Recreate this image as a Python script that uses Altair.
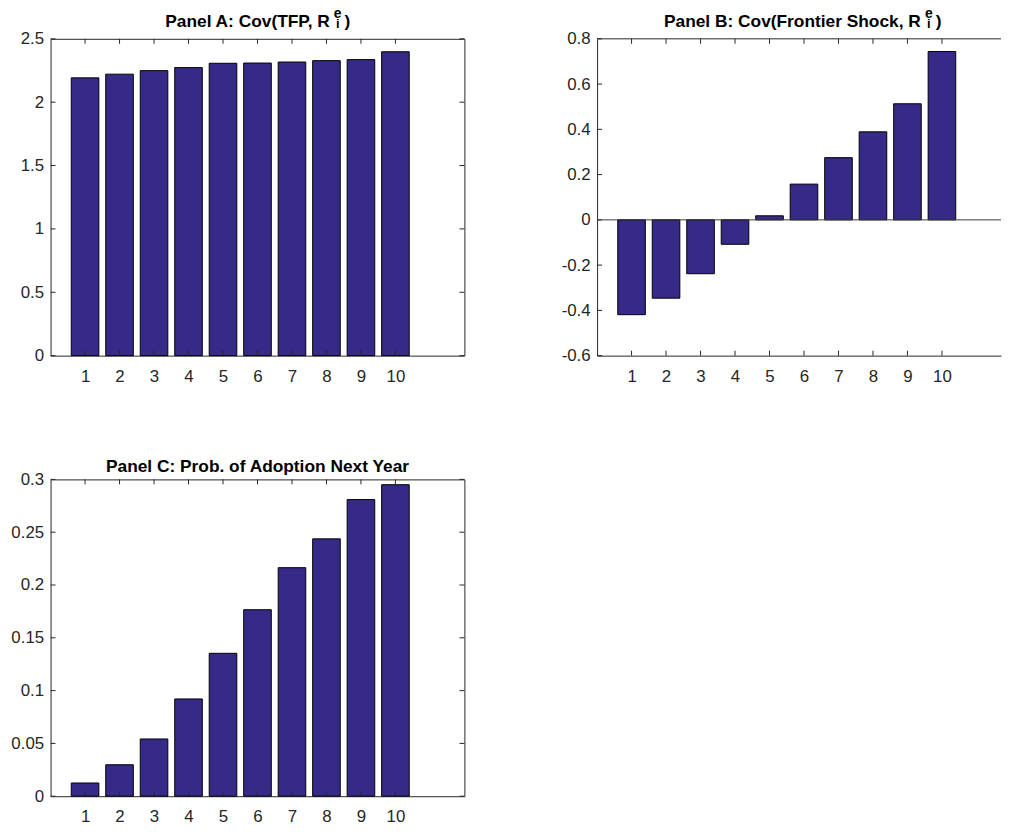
import altair as alt
import pandas as pd

# ---------------- data ----------------
groups = [1, 2, 3, 4, 5, 6, 7, 8, 9, 10]
cov_tfp = [2.192, 2.221, 2.249, 2.273, 2.307, 2.309, 2.317, 2.328, 2.336, 2.398]
cov_frontier = [-0.419, -0.346, -0.238, -0.108, 0.018, 0.158, 0.275, 0.389, 0.513, 0.744]
prob_adopt = [0.0125, 0.0298, 0.0542, 0.0921, 0.1353, 0.1766, 0.2164, 0.2437, 0.2809, 0.2950]

ticks_a = [0, 0.5, 1, 1.5, 2, 2.5]
ticks_b = [-0.6, -0.4, -0.2, 0, 0.2, 0.4, 0.6, 0.8]
ticks_c = [0, 0.05, 0.1, 0.15, 0.2, 0.25, 0.3]

title_a = ["Panel A: Cov(TFP, R", "e", "i", ")"]
title_b = ["Panel B: Cov(Frontier Shock, R", "e", "i", ")"]
title_c = "Panel C: Prob. of Adoption Next Year"

# ---------------- style ----------------
BAR_FILL = "#352A87"
AX = "#262626"
FONT = "Liberation Sans"
W, H = 418, 320
WB = 408           # panel B is cut by the window edge
TICK = 5


def panel(values, yticks, ydom, width, xmax, framed, zero_line, title_layers):
    df = pd.DataFrame({"g": groups, "v": values})
    xs = alt.Scale(domain=[0, xmax], nice=False, zero=False)
    ys = alt.Scale(domain=ydom, nice=False, zero=False)
    xaxis = alt.Axis(values=groups, grid=False, ticks=False, domain=not framed,
                     domainColor=AX, labelFontSize=17, labelFont=FONT,
                     labelColor=AX, labelPadding=13, title="",
                     minExtent=30, maxExtent=30)
    yaxis = alt.Axis(values=yticks, grid=False, ticks=False, domain=not framed,
                     domainColor=AX, labelFontSize=17, labelFont=FONT,
                     labelColor=AX, labelPadding=7, title="",
                     minExtent=42, maxExtent=42,
                     labelExpr="replace(format(datum.value, '~g'), '\u2212', '-')")

    bars = alt.Chart(df).transform_calculate(
        x0="datum.g - 0.4", x1="datum.g + 0.4"
    ).mark_bar(fill=BAR_FILL, stroke="black", strokeWidth=1).encode(
        x=alt.X("x0:Q", scale=xs, axis=xaxis),
        x2="x1:Q",
        y=alt.Y("v:Q", scale=ys, axis=yaxis),
        y2=alt.datum(0),
    )

    xt = pd.DataFrame({"t": groups})
    yt = pd.DataFrame({"t": yticks})
    top_t = alt.Chart(xt).mark_rule(color=AX, strokeWidth=1).encode(
        x=alt.X("t:Q", scale=xs, axis=xaxis), y=alt.value(0), y2=alt.value(TICK))
    bot_t = alt.Chart(xt).mark_rule(color=AX, strokeWidth=1).encode(
        x=alt.X("t:Q", scale=xs, axis=xaxis), y=alt.value(H), y2=alt.value(H - TICK))
    left_t = alt.Chart(yt).mark_rule(color=AX, strokeWidth=1).encode(
        y=alt.Y("t:Q", scale=ys, axis=yaxis), x=alt.value(0), x2=alt.value(TICK))
    layers = [bars, top_t, bot_t, left_t]
    if framed:
        right_t = alt.Chart(yt).mark_rule(color=AX, strokeWidth=1).encode(
            y=alt.Y("t:Q", scale=ys, axis=yaxis), x=alt.value(width), x2=alt.value(width - TICK))
        layers.append(right_t)
    else:
        top_border = alt.Chart(pd.DataFrame({"k": [0]})).mark_rule(color=AX, strokeWidth=1).encode(
            x=alt.value(0), x2=alt.value(width), y=alt.value(0))
        layers.append(top_border)
    if zero_line:
        zl = alt.Chart(pd.DataFrame({"z": [0]})).mark_rule(color="#3a3a3a", strokeWidth=1).encode(
            y=alt.Y("z:Q", scale=ys, axis=yaxis), x=alt.value(0), x2=alt.value(width))
        layers.append(zl)
    layers.extend(title_layers)
    ch = alt.layer(*layers).properties(
        width=width, height=H,
        view={"stroke": AX if framed else "transparent", "strokeWidth": 1},
    )
    return ch


def title_texts(parts, r_end, sup_x, paren_x):
    main, sup, sub, paren = parts
    one = pd.DataFrame({"k": [0]})
    t_main = alt.Chart(one).mark_text(
        text=main, align="right", baseline="alphabetic", font=FONT,
        fontWeight="bold", fontSize=17.5, color="black"
    ).encode(x=alt.value(r_end), y=alt.value(-12))
    t_sup = alt.Chart(one).mark_text(
        text=sup, align="center", baseline="alphabetic", font=FONT,
        fontWeight="bold", fontSize=14, color="black"
    ).encode(x=alt.value(sup_x), y=alt.value(-21))
    t_sub = alt.Chart(one).mark_text(
        text=sub, align="center", baseline="alphabetic", font=FONT,
        fontWeight="bold", fontSize=13, color="black"
    ).encode(x=alt.value(sup_x), y=alt.value(-11))
    t_par = alt.Chart(one).mark_text(
        text=paren, align="left", baseline="alphabetic", font=FONT,
        fontWeight="bold", fontSize=17.5, color="black"
    ).encode(x=alt.value(paren_x), y=alt.value(-12))
    return [t_main, t_sup, t_sub, t_par]


one_row = pd.DataFrame({"k": [0]})
t_c = alt.Chart(one_row).mark_text(
    text=title_c, align="center", baseline="alphabetic", font=FONT,
    fontWeight="bold", fontSize=17.5, color="black"
).encode(x=alt.value(W / 2), y=alt.value(-7))

pa = panel(cov_tfp, ticks_a, [0, 2.5], W, 12, True, False,
           title_texts(title_a, 282, 290, 297))
pb = panel(cov_frontier, ticks_b, [-0.6, 0.8], WB, 12 * WB / W, False, True,
           title_texts(title_b, 327, 335, 342))
pc = panel(prob_adopt, ticks_c, [0, 0.3], W, 12, True, False, [t_c])

chart = alt.vconcat(
    alt.hconcat(pa, pb, spacing=90),
    pc,
    spacing=72,
).properties(
    padding={"left": 0, "top": -6, "right": 0, "bottom": 0}
).configure_view(stroke=AX)

chart.save("out.html", embed_options={"renderer": "svg", "actions": False})
